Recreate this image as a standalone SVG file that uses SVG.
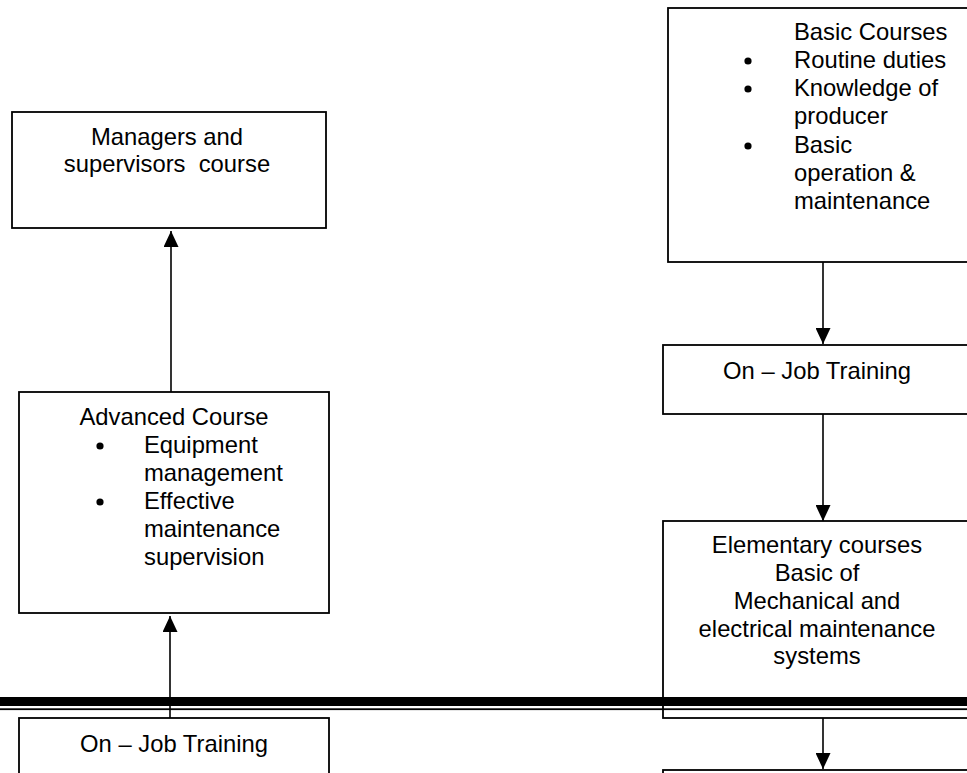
<svg xmlns="http://www.w3.org/2000/svg" width="967" height="773" viewBox="0 0 967 773">
<style>
.box{fill:#fff;stroke:#000;stroke-width:1.8}
.t{font-family:"Liberation Sans",Arial,sans-serif;font-size:23.8px;fill:#000}
.c{text-anchor:middle}
.conn{stroke:#000;stroke-width:1.6;fill:none}
.dot{fill:#000}
</style>
<defs>
<marker id="ah" viewBox="0 0 16 15" refX="16" refY="7.5" markerWidth="16" markerHeight="15" markerUnits="userSpaceOnUse" orient="auto">
<path d="M0,0 L16,7.5 L0,15 Z" fill="#000"/>
</marker>
</defs>
<rect width="967" height="773" fill="#fff"/>
<g id="managers">
<rect class="box" x="12" y="112" width="314" height="116"/>
<text class="t c" x="167" y="145">Managers and</text>
<text class="t c" x="167" y="172" xml:space="preserve">supervisors  course</text>
</g>
<g id="advanced">
<rect class="box" x="19" y="392" width="310" height="221"/>
<text class="t c" x="174" y="425">Advanced Course</text>
<circle class="dot" cx="100" cy="446" r="3.6"/>
<text class="t" x="144" y="453">Equipment</text>
<text class="t" x="144" y="481">management</text>
<circle class="dot" cx="100" cy="502" r="3.6"/>
<text class="t" x="144" y="509">Effective</text>
<text class="t" x="144" y="537">maintenance</text>
<text class="t" x="144" y="565">supervision</text>
</g>
<g id="ojt-left">
<rect class="box" x="19" y="718" width="310" height="80"/>
<text class="t c" x="174" y="752">On – Job Training</text>
</g>
<g id="basic">
<rect class="box" x="668" y="8" width="310" height="254"/>
<text class="t" x="794" y="40">Basic Courses</text>
<circle class="dot" cx="748" cy="61" r="3.6"/>
<text class="t" x="794" y="68">Routine duties</text>
<circle class="dot" cx="748" cy="89" r="3.6"/>
<text class="t" x="794" y="96">Knowledge of</text>
<text class="t" x="794" y="124">producer</text>
<circle class="dot" cx="748" cy="146" r="3.6"/>
<text class="t" x="794" y="153">Basic</text>
<text class="t" x="794" y="181">operation &amp;</text>
<text class="t" x="794" y="209">maintenance</text>
</g>
<g id="ojt-right">
<rect class="box" x="663" y="345" width="310" height="69"/>
<text class="t c" x="817" y="379">On – Job Training</text>
</g>
<g id="elementary">
<rect class="box" x="663" y="521" width="310" height="197"/>
<text class="t c" x="817" y="553">Elementary courses</text>
<text class="t c" x="817" y="581">Basic of</text>
<text class="t c" x="817" y="609">Mechanical and</text>
<text class="t c" x="817" y="637">electrical maintenance</text>
<text class="t c" x="817" y="664">systems</text>
</g>
<g id="next-right">
<rect class="box" x="663" y="770" width="310" height="20"/>
</g>
<g id="connectors">
<line class="conn" x1="171" y1="392" x2="171" y2="231" marker-end="url(#ah)"/>
<line class="conn" x1="170" y1="718" x2="170" y2="616" marker-end="url(#ah)"/>
<line class="conn" x1="823" y1="262" x2="823" y2="344" marker-end="url(#ah)"/>
<line class="conn" x1="823" y1="414" x2="823" y2="521" marker-end="url(#ah)"/>
<line class="conn" x1="823" y1="718" x2="823" y2="769" marker-end="url(#ah)"/>
</g>
<g id="page-rule">
<rect x="0" y="697" width="967" height="9" fill="#000"/>
<rect x="0" y="708.3" width="967" height="1.8" fill="#000"/>
</g>
</svg>
